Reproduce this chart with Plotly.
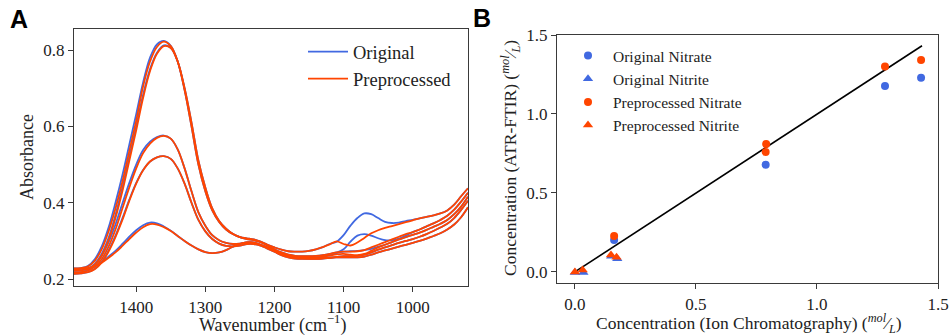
import plotly.graph_objects as go

W, H = 949, 335

# ---------------- Panel A data (spectra) ----------------
wavenumber = [1490, 1480, 1470, 1460, 1450, 1440, 1430, 1420, 1410, 1400,
              1390, 1380, 1370, 1360, 1350, 1340, 1330, 1320, 1310, 1300,
              1290, 1280, 1270, 1260, 1250, 1240, 1230, 1220, 1210, 1200,
              1190, 1180, 1170, 1160, 1150, 1140, 1130, 1120, 1110, 1100,
              1090, 1080, 1070, 1060, 1050, 1040, 1030, 1020, 1010, 1000,
              990, 980, 970, 960, 950, 940, 930, 920]

pre_1 = [.228, .229, .233, .248, .278, .325, .385, .455, .535, .615,
         .705, .770, .808, .822, .810, .770, .695, .600, .500, .430,
         .380, .350, .330, .318, .310, .307, .304, .298, .290, .283,
         .277, .273, .272, .272, .274, .278, .284, .291, .299, .292,
         .288, .296, .308, .320, .328, .334, .339, .344, .349, .354,
         .359, .363, .367, .372, .380, .395, .417, .438]
pre_2 = [.222, .223, .226, .238, .262, .302, .360, .430, .510, .590,
         .675, .745, .790, .810, .805, .770, .700, .610, .510, .440,
         .385, .352, .332, .318, .310, .305, .302, .297, .288, .278,
         .270, .264, .261, .260, .260, .261, .263, .266, .270, .272,
         .272, .273, .276, .283, .290, .297, .304, .311, .318, .323,
         .330, .338, .346, .355, .366, .382, .403, .426]
pre_3 = [.217, .218, .222, .232, .252, .285, .330, .385, .440, .490,
         .530, .555, .570, .575, .568, .540, .490, .430, .375, .340,
         .315, .302, .295, .292, .293, .296, .295, .290, .283, .275,
         .267, .260, .257, .256, .256, .257, .259, .262, .265, .266,
         .264, .263, .266, .274, .283, .290, .297, .304, .310, .316,
         .322, .329, .337, .345, .355, .370, .390, .416]
pre_4 = [.214, .215, .218, .226, .243, .272, .310, .355, .405, .450,
         .485, .508, .519, .522, .515, .490, .450, .400, .355, .325,
         .305, .293, .287, .286, .288, .292, .292, .288, .280, .272,
         .263, .257, .254, .253, .253, .253, .254, .256, .258, .260,
         .260, .261, .264, .270, .277, .283, .289, .295, .300, .305,
         .311, .318, .326, .335, .345, .360, .381, .405]
pre_5 = [.226, .227, .229, .234, .243, .256, .270, .287, .305, .322,
         .336, .344, .343, .336, .326, .313, .300, .288, .278, .271,
         .268, .270, .276, .285, .292, .296, .296, .290, .282, .273,
         .265, .260, .257, .255, .254, .254, .255, .256, .257, .257,
         .257, .257, .259, .264, .270, .275, .280, .285, .290, .295,
         .300, .306, .313, .320, .330, .343, .362, .388]

orig_1 = [.228, .229, .234, .252, .285, .335, .400, .472, .552, .632,
          .715, .780, .815, .824, .811, .770, .695, .600, .500, .430,
          .380, .350, .330, .318, .310, .307, .304, .298, .290, .283,
          .277, .273, .272, .272, .274, .278, .284, .292, .298, .315,
          .340, .360, .372, .370, .360, .350, .347, .348, .352, .355,
          .359, .363, .367, .372, .380, .395, .417, .438]
orig_2 = [.222, .223, .227, .240, .266, .308, .368, .440, .520, .600,
          .683, .750, .793, .812, .806, .770, .700, .610, .510, .440,
          .385, .352, .332, .318, .310, .305, .302, .297, .288, .278,
          .270, .264, .261, .260, .260, .261, .263, .266, .270, .278,
          .298, .314, .318, .314, .307, .302, .302, .306, .314, .323,
          .330, .338, .346, .355, .366, .382, .403, .426]
orig_3 = [.217, .218, .223, .236, .260, .296, .343, .398, .452, .500,
          .538, .560, .572, .576, .568, .540, .490, .430, .375, .340,
          .315, .302, .295, .292, .293, .296, .295, .290, .283, .275,
          .267, .260, .257, .256, .256, .257, .259, .262, .268, .272,
          .273, .274, .276, .279, .285, .290, .297, .304, .310, .316,
          .322, .329, .337, .345, .355, .370, .390, .416]
orig_4 = [.214, .215, .218, .227, .245, .275, .314, .359, .408, .452,
          .486, .508, .519, .522, .515, .490, .450, .400, .355, .325,
          .305, .293, .287, .286, .288, .292, .292, .288, .280, .272,
          .263, .257, .254, .253, .253, .253, .254, .256, .258, .260,
          .260, .261, .264, .270, .277, .283, .289, .295, .300, .305,
          .311, .318, .326, .335, .345, .360, .381, .405]
orig_5 = [.226, .227, .229, .235, .245, .259, .274, .292, .311, .328,
          .341, .348, .346, .338, .327, .313, .300, .288, .278, .271,
          .268, .270, .276, .285, .292, .296, .296, .290, .282, .273,
          .265, .260, .257, .255, .254, .254, .255, .256, .257, .257,
          .257, .257, .259, .264, .270, .275, .280, .285, .290, .295,
          .300, .306, .313, .320, .330, .343, .362, .388]

original_spectra = [orig_1, orig_2, orig_3, orig_4, orig_5]
preprocessed_spectra = [pre_1, pre_2, pre_3, pre_4, pre_5]

a_xticks = [1400, 1300, 1200, 1100, 1000]
a_yticks = [0.2, 0.4, 0.6, 0.8]

# ---------------- Panel B data (concentrations) ----------------
orig_nitrate_ic = [0.162, 0.788, 1.281, 1.430]
orig_nitrate_ftir = [0.203, 0.679, 1.177, 1.230]
orig_nitrite_ic = [0.000, 0.035, 0.150, 0.175]
orig_nitrite_ftir = [-0.003, -0.004, 0.100, 0.083]
pre_nitrate_ic = [0.162, 0.788, 0.790, 1.281, 1.430]
pre_nitrate_ftir = [0.228, 0.759, 0.810, 1.300, 1.342]
pre_nitrite_ic = [0.000, 0.032, 0.149, 0.172]
pre_nitrite_ftir = [0.000, 0.013, 0.108, 0.093]
fit_x = [0.0, 1.434]
fit_y = [0.0, 1.432]

b_ticks = [0.0, 0.5, 1.0, 1.5]

BLUE = "#4169E1"
ORANGE = "#FF4500"
SERIF = "Liberation Serif"


def fx(p):
    return p / W


def fy(p):
    return 1 - p / H


fig = go.Figure()

for i, ys in enumerate(original_spectra):
    fig.add_trace(go.Scatter(
        x=wavenumber, y=ys, mode="lines", line=dict(color=BLUE, width=1.8, shape="spline", smoothing=1.0),
        name="Original", legendgroup="orig", showlegend=(i == 0), legend="legend",
        xaxis="x", yaxis="y"))
for i, ys in enumerate(preprocessed_spectra):
    fig.add_trace(go.Scatter(
        x=wavenumber, y=ys, mode="lines", line=dict(color=ORANGE, width=1.8, shape="spline", smoothing=1.0),
        name="Preprocessed", legendgroup="pre", showlegend=(i == 0), legend="legend",
        xaxis="x", yaxis="y"))

fig.add_trace(go.Scatter(x=fit_x, y=fit_y, mode="lines", line=dict(color="black", width=1.6),
                         showlegend=False, xaxis="x2", yaxis="y2"))
fig.add_trace(go.Scatter(x=orig_nitrate_ic, y=orig_nitrate_ftir, mode="markers",
                         marker=dict(color=BLUE, size=8, symbol="circle"),
                         name="Original Nitrate", legend="legend2", xaxis="x2", yaxis="y2"))
fig.add_trace(go.Scatter(x=orig_nitrite_ic, y=orig_nitrite_ftir, mode="markers",
                         marker=dict(color=BLUE, size=9, symbol="triangle-up"),
                         name="Original Nitrite", legend="legend2", xaxis="x2", yaxis="y2"))
fig.add_trace(go.Scatter(x=pre_nitrate_ic, y=pre_nitrate_ftir, mode="markers",
                         marker=dict(color=ORANGE, size=8, symbol="circle"),
                         name="Preprocessed Nitrate", legend="legend2", xaxis="x2", yaxis="y2"))
fig.add_trace(go.Scatter(x=pre_nitrite_ic, y=pre_nitrite_ftir, mode="markers",
                         marker=dict(color=ORANGE, size=9, symbol="triangle-up"),
                         name="Preprocessed Nitrite", legend="legend2", xaxis="x2", yaxis="y2"))

axis_common = dict(showline=True, mirror=True, linecolor="#3a3a3a", linewidth=1.2,
                   ticks="outside", ticklen=5, tickwidth=1, tickcolor="#3a3a3a",
                   showgrid=False, zeroline=False, automargin=False,
                   tickfont=dict(family=SERIF, size=17, color="#222"))

fig.update_layout(
    width=W, height=H, margin=dict(l=0, r=0, t=0, b=0, autoexpand=False),
    plot_bgcolor="white", paper_bgcolor="white",
    font=dict(family=SERIF, color="#222"),
    xaxis=dict(domain=[fx(74), fx(468)], range=[1490, 920], tickvals=a_xticks,
               anchor="y", **axis_common),
    yaxis=dict(domain=[fy(286), fy(29)], range=[0.182, 0.855], tickvals=a_yticks,
               tickformat=".1f", anchor="x", **axis_common),
    xaxis2=dict(domain=[fx(557), fx(938)], range=[-0.074, 1.5], tickvals=b_ticks,
                tickformat=".1f", anchor="y2", **axis_common),
    yaxis2=dict(domain=[fy(283), fy(35)], range=[-0.07, 1.5], tickvals=b_ticks,
                tickformat=".1f", anchor="x2", **axis_common),
    legend=dict(x=fx(303), y=fy(33), xanchor="left", yanchor="top",
                bgcolor="rgba(0,0,0,0)", font=dict(family=SERIF, size=18.5, color="#222"),
                itemwidth=40, tracegroupgap=0),
    legend2=dict(x=fx(563), y=fy(39), xanchor="left", yanchor="top",
                 bgcolor="rgba(0,0,0,0)", font=dict(family=SERIF, size=15.5, color="#222"),
                 itemwidth=40, tracegroupgap=0),
    annotations=[
        dict(text="<b>A</b>", x=fx(8), y=fy(35), xref="paper", yref="paper",
             xanchor="left", yanchor="bottom", showarrow=False,
             font=dict(family="Liberation Sans", size=25, color="black")),
        dict(text="<b>B</b>", x=fx(471), y=fy(34), xref="paper", yref="paper",
             xanchor="left", yanchor="bottom", showarrow=False,
             font=dict(family="Liberation Sans", size=25, color="black")),
        dict(text="Absorbance", x=fx(27), y=fy(157), xref="paper", yref="paper",
             textangle=-90, showarrow=False, xanchor="center", yanchor="middle",
             font=dict(family=SERIF, size=18, color="#222")),
        dict(text="Wavenumber (cm<sup>\u22121</sup>)", x=fx(272), y=fy(324), xref="paper", yref="paper",
             showarrow=False, xanchor="center", yanchor="middle",
             font=dict(family=SERIF, size=18, color="#222")),
        dict(text="Concentration (ATR-FTIR) (<sup><i>mol</i></sup>\u2044<sub><i>L</i></sub>)",
             x=fx(510), y=fy(158), xref="paper", yref="paper",
             textangle=-90, showarrow=False, xanchor="center", yanchor="middle",
             font=dict(family=SERIF, size=17.5, color="#222")),
        dict(text="Concentration (Ion Chromatography) (<sup><i>mol</i></sup>\u2044<sub><i>L</i></sub>)",
             x=fx(749), y=fy(323), xref="paper", yref="paper",
             showarrow=False, xanchor="center", yanchor="middle",
             font=dict(family=SERIF, size=17.5, color="#222")),
    ],
)

fig.write_html("out.html")
